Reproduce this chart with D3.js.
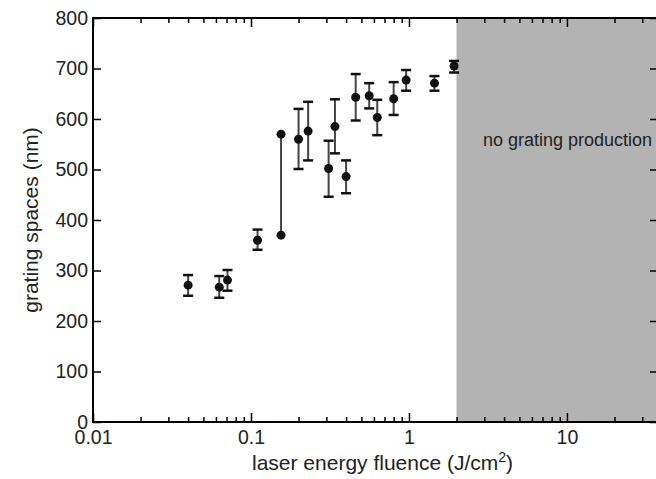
<!DOCTYPE html>
<html>
<head>
<meta charset="utf-8">
<script src="https://cdn.jsdelivr.net/npm/d3@7"></script>
<style>
  body { margin: 0; background: #fff; }
  svg { display: block; font-family: "Liberation Sans", Arial, Helvetica, sans-serif; }
  .axis text { fill: #222; }
</style>
</head>
<body>
<svg id="chart" width="656" height="479"></svg>
<script>
// measured points with error bars
var fluence  = [0.04, 0.063, 0.071, 0.11, 0.2, 0.23, 0.31, 0.34, 0.4, 0.46, 0.56, 0.63, 0.8, 0.96, 1.45, 1.93];
var spacing  = [271, 267, 281, 360, 560, 576, 502, 585, 486, 643, 646, 603, 640, 677, 671, 705];
var errLow   = [250, 246, 260, 341, 501, 518, 446, 532, 453, 597, 621, 568, 608, 656, 656, 692];
var errHigh  = [291, 289, 301, 381, 620, 634, 557, 639, 518, 689, 671, 638, 673, 697, 685, 715];

// one fluence gave two distinct spacings, joined by a line
var spreadFluence = [0.155];
var spreadLow = [370];
var spreadHigh = [570];

var noGratingFrom = 2;
var xMajor = [0.01, 0.1, 1, 10];
var xMajorLabels = ["0.01", "0.1", "1", "10"];
var yTicks = [0, 100, 200, 300, 400, 500, 600, 700, 800];

var margin = {top: 18, left: 93, bottom: 57};
var width = 565;   // plot runs a little past the right edge of the picture
var height = 479 - margin.top - margin.bottom - 0;

var svg = d3.select("#chart");

var x = d3.scaleLog().domain([0.01, 37.7]).range([0, width]);
var y = d3.scaleLinear().domain([0, 800]).range([404, 0]);

var xMinor = [];
[0.01, 0.1, 1, 10].forEach(function(dec) {
  for (var k = 2; k <= 9; k++) {
    if (dec * k <= x.domain()[1]) xMinor.push(dec * k);
  }
});

var g = svg.append("g")
    .attr("transform", "translate(" + margin.left + "," + margin.top + ")");

// shaded region
g.append("rect")
    .attr("x", x(noGratingFrom))
    .attr("y", 0)
    .attr("width", width - x(noGratingFrom))
    .attr("height", y(0))
    .attr("fill", "#b3b3b3");

g.append("text")
    .attr("x", width - 6)
    .attr("y", y(547))
    .attr("text-anchor", "end")
    .attr("font-size", "18px")
    .attr("fill", "#222")
    .text("no grating production");

// axes, ticks pointing inward
function styleAxis(sel) {
  sel.select(".domain").remove();
  sel.selectAll(".tick line").attr("stroke", "#000").attr("stroke-width", 1.5);
}

g.append("g")
    .attr("class", "axis axis--x")
    .attr("transform", "translate(0," + y(0) + ")")
    .style("font-size", "19.5px")
    .call(d3.axisBottom(x).tickValues(xMajor).tickSize(-9).tickSizeOuter(0).tickPadding(8)
      .tickFormat(function(d, i) { return xMajorLabels[i]; }))
    .call(styleAxis)
    .selectAll("text").attr("font-family", null).attr("font-size", null);

g.append("g")
    .attr("transform", "translate(0," + y(0) + ")")
    .call(d3.axisBottom(x).tickValues(xMinor).tickSize(-5).tickSizeOuter(0).tickFormat(""))
    .call(styleAxis);

g.append("g")
    .call(d3.axisTop(x).tickValues(xMajor).tickSize(-9).tickSizeOuter(0).tickFormat(""))
    .call(styleAxis);

g.append("g")
    .call(d3.axisTop(x).tickValues(xMinor).tickSize(-5).tickSizeOuter(0).tickFormat(""))
    .call(styleAxis);

g.append("g")
    .attr("class", "axis axis--y")
    .style("font-size", "19.5px")
    .call(d3.axisLeft(y).tickValues(yTicks).tickSize(-8).tickSizeOuter(0).tickPadding(5))
    .call(styleAxis)
    .selectAll("text").attr("font-family", null).attr("font-size", null);

g.append("g")
    .attr("transform", "translate(" + width + ",0)")
    .call(d3.axisRight(y).tickValues(yTicks).tickSize(-8).tickSizeOuter(0).tickFormat(""))
    .call(styleAxis);

// frame
g.append("rect")
    .attr("x", 0)
    .attr("y", 0)
    .attr("width", width)
    .attr("height", y(0))
    .attr("fill", "none")
    .attr("stroke", "#000")
    .attr("stroke-width", 2);

// axis titles
var xTitle = svg.append("text")
    .attr("x", 252)
    .attr("y", 470)
    .attr("font-size", "21px")
    .attr("fill", "#222");
xTitle.append("tspan").text("laser energy fluence (J/cm");
xTitle.append("tspan").attr("font-size", "14px").attr("dy", "-8").text("2");
xTitle.append("tspan").attr("dy", "8").text(")");

svg.append("text")
    .attr("transform", "translate(38," + (margin.top + y(400)) + ") rotate(-90)")
    .attr("text-anchor", "middle")
    .attr("font-size", "21px")
    .attr("fill", "#222")
    .text("grating spaces (nm)");

// data
var data = fluence.map(function(f, i) {
  return {f: f, v: spacing[i], lo: errLow[i], hi: errHigh[i]};
});
var spread = spreadFluence.map(function(f, i) {
  return {f: f, lo: spreadLow[i], hi: spreadHigh[i]};
});

g.selectAll(".spread")
    .data(spread)
  .enter().append("line")
    .attr("class", "spread")
    .attr("x1", function(d) { return x(d.f); })
    .attr("x2", function(d) { return x(d.f); })
    .attr("y1", function(d) { return y(d.lo); })
    .attr("y2", function(d) { return y(d.hi); })
    .attr("stroke", "#444")
    .attr("stroke-width", 2);

g.selectAll(".spread-dot")
    .data(spread.reduce(function(a, d) {
      return a.concat([{f: d.f, v: d.lo}, {f: d.f, v: d.hi}]);
    }, []))
  .enter().append("circle")
    .attr("class", "spread-dot")
    .attr("cx", function(d) { return x(d.f); })
    .attr("cy", function(d) { return y(d.v); })
    .attr("r", 4.5)
    .attr("fill", "#111");

var bars = g.selectAll(".err")
    .data(data)
  .enter().append("g")
    .attr("class", "err");

bars.append("line")
    .attr("x1", function(d) { return x(d.f); })
    .attr("x2", function(d) { return x(d.f); })
    .attr("y1", function(d) { return y(d.lo); })
    .attr("y2", function(d) { return y(d.hi); })
    .attr("stroke", "#444")
    .attr("stroke-width", 2);

["lo", "hi"].forEach(function(k) {
  bars.append("line")
      .attr("x1", function(d) { return x(d.f) - 5; })
      .attr("x2", function(d) { return x(d.f) + 5; })
      .attr("y1", function(d) { return y(d[k]); })
      .attr("y2", function(d) { return y(d[k]); })
      .attr("stroke", "#111")
      .attr("stroke-width", 2.5);
});

bars.append("circle")
    .attr("cx", function(d) { return x(d.f); })
    .attr("cy", function(d) { return y(d.v); })
    .attr("r", 4.5)
    .attr("fill", "#111");
</script>
</body>
</html>
